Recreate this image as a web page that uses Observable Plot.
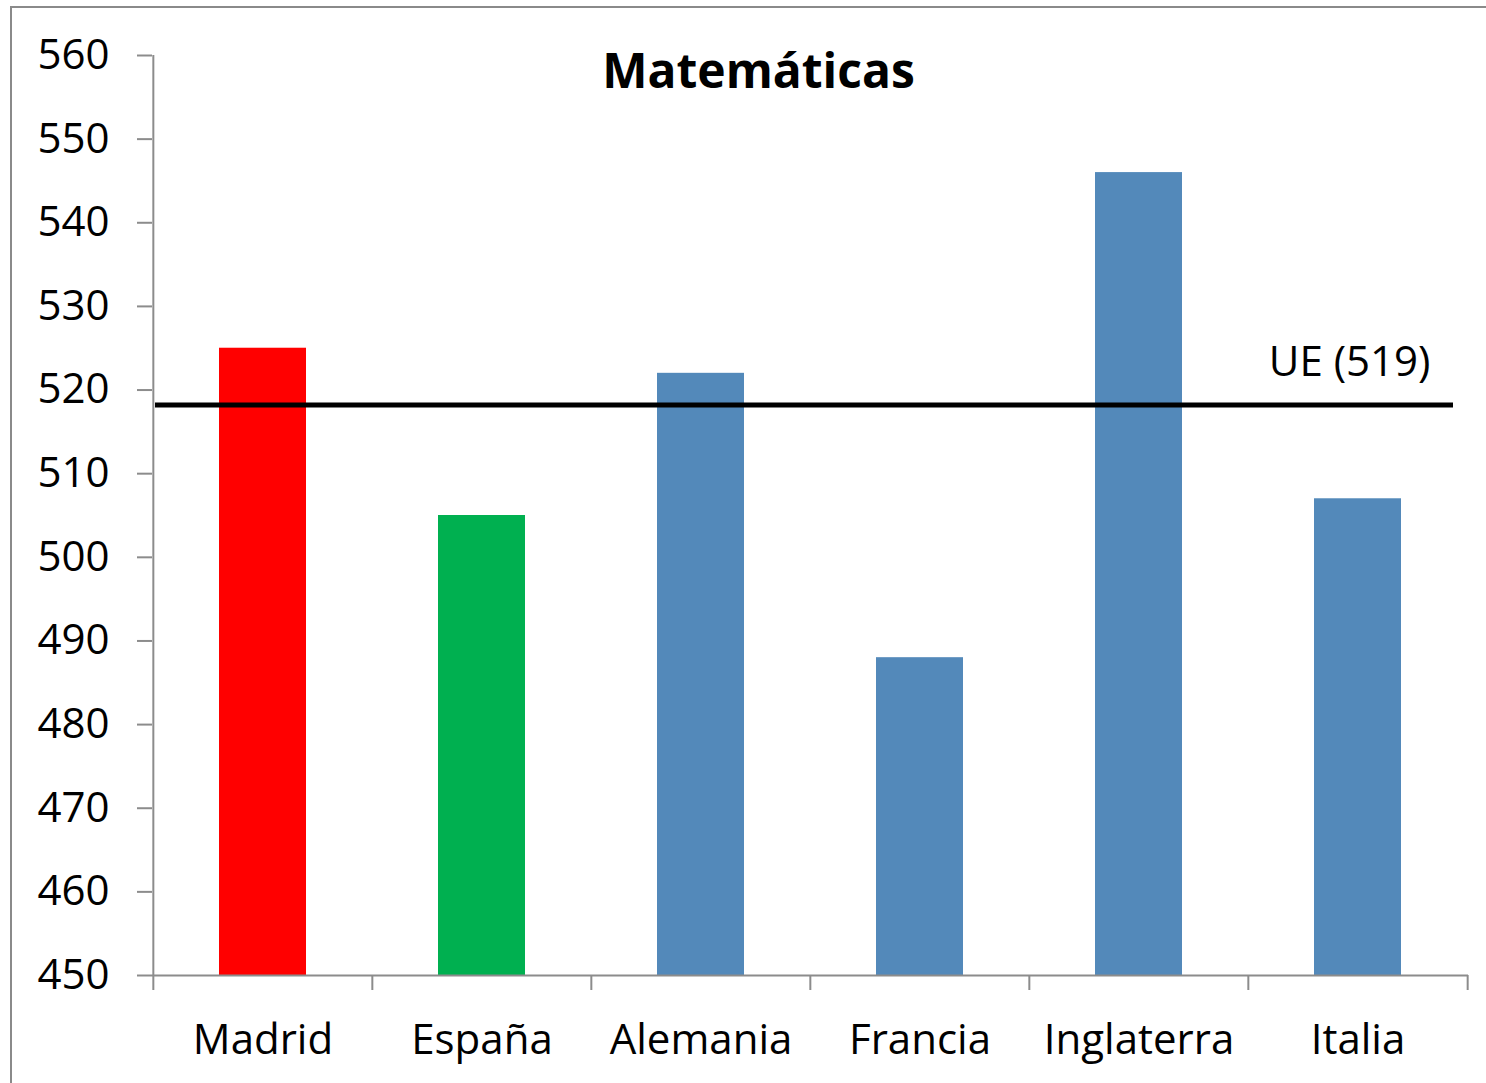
<!DOCTYPE html>
<html><head><meta charset="utf-8">
<script src="https://cdn.jsdelivr.net/npm/d3@7"></script>
<script src="https://cdn.jsdelivr.net/npm/@observablehq/plot@0.6"></script>
<style>
body{margin:0;background:#fff}
#wrap{position:relative;width:1486px;height:1083px;overflow:hidden;background:#fff}
#wrap svg{position:absolute;left:0;top:0}
#border{position:absolute;left:10px;top:6px;right:-10px;bottom:-10px;border-left:2px solid #8a8a8a;border-top:2px solid #8a8a8a;pointer-events:none}
</style></head><body><div id="wrap"></div>
<script>
const categories = ["Madrid", "España", "Alemania", "Francia", "Inglaterra", "Italia"];
const scores = [525, 505, 522, 488, 546, 507];
const barColors = ["#FF0000", "#00B050", "#5389BA", "#5389BA", "#5389BA", "#5389BA"];
const yTicks = [450, 460, 470, 480, 490, 500, 510, 520, 530, 540, 550, 560];
const baseline = 450;
const ueLevel = 518.2;
const ueLabel = "UE (519)";
const title = "Matemáticas";

const data = categories.map((c, i) => ({category: c, score: scores[i], color: barColors[i]}));

const W = 1486, H = 1083;
const mL = 152, mR = 18, mT = 55, mB = 108;
const step = (W - mL - mR) / categories.length;
const axisGray = "#8c8c8c";
const yMin = yTicks[0], yMax = yTicks[yTicks.length - 1];

const chart = Plot.plot({
  width: W, height: H,
  marginLeft: mL, marginRight: mR, marginTop: mT, marginBottom: mB,
  style: {fontFamily: "'Open Sans', sans-serif", fontSize: "42px", background: "transparent", color: "black"},
  x: {domain: categories, padding: 0},
  y: {domain: [yMin, yMax]},
  marks: [
    Plot.barY(data, {x: "category", y1: baseline, y2: "score", fill: "color", insetLeft: 66, insetRight: 66}),
    // axis lines
    Plot.ruleY([yMin], {stroke: axisGray, strokeWidth: 2}),
    Plot.ruleX([categories[0]], {y1: yMin, y2: yMax, dx: -step / 2, stroke: axisGray, strokeWidth: 2}),
    Plot.ruleY([ueLevel], {stroke: "black", strokeWidth: 5, insetLeft: 3, insetRight: 15}),
    Plot.text([{y: ueLevel, label: ueLabel}], {y: "y", text: "label", frameAnchor: "right", textAnchor: "end", lineAnchor: "middle", dx: -38, dy: -43, fontSize: 42, fill: "black"}),
    Plot.text([title], {frameAnchor: "top", lineAnchor: "top", dx: -52, dy: -2, fontSize: 48, fontWeight: "bold", fill: "black"}),
    Plot.axisY({ticks: yTicks, tickSize: 15, tickPadding: 28, stroke: axisGray, strokeOpacity: 1, strokeWidth: 2, fill: "black", label: null}),
    Plot.axisX({tickSize: 0, tickPadding: 49, fill: "black", label: null}),
    Plot.axisX({tickSize: 15, tickFormat: () => "", dx: -step / 2, stroke: axisGray, strokeOpacity: 1, strokeWidth: 2, label: null}),
    Plot.axisX({ticks: [categories[categories.length - 1]], tickSize: 15, tickFormat: () => "", dx: step / 2, stroke: axisGray, strokeOpacity: 1, strokeWidth: 2, label: null})
  ]
});
const wrap = document.getElementById("wrap");
wrap.appendChild(chart);
const b = document.createElement("div");
b.id = "border";
wrap.appendChild(b);
</script>
</body></html>
